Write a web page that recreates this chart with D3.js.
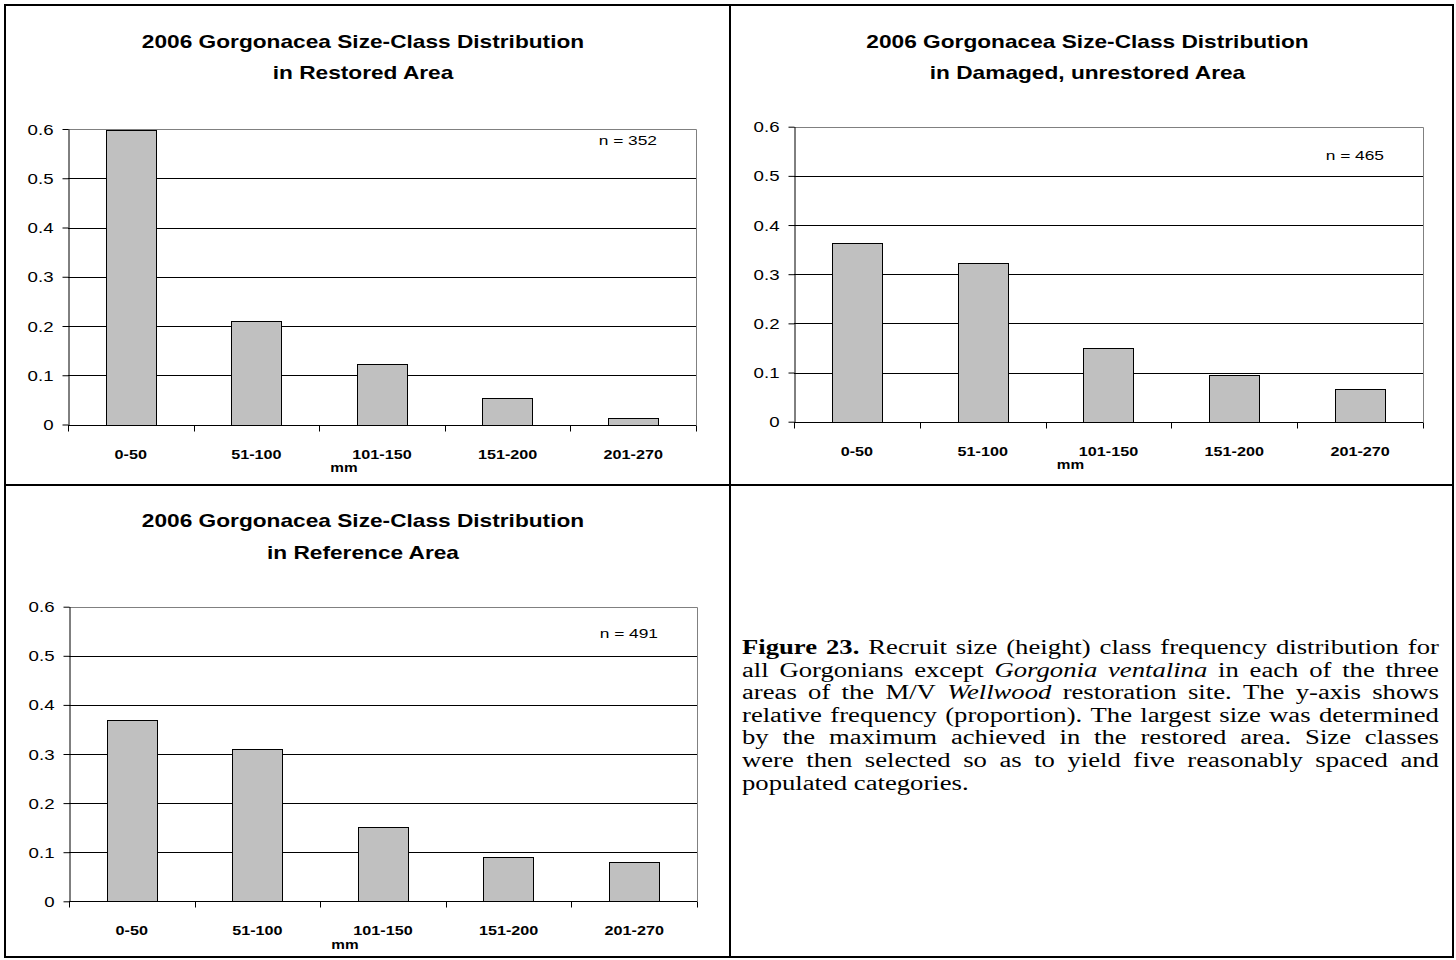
<!DOCTYPE html>
<html>
<head>
<meta charset="utf-8">
<script src="https://cdn.jsdelivr.net/npm/d3@7"></script>
<style>
  html, body { margin: 0; padding: 0; background: #fff; }
  #fig { position: absolute; left: 0; top: 0; }
  #cap {
    position: absolute; left: 742px; top: 636px;
    width: 522.75px; transform: scaleX(1.3333); transform-origin: 0 0;
    font-family: "Liberation Serif", "Times New Roman", serif; font-size: 20px; color: #000;
  }
  #cap .ln { display: flex; justify-content: space-between; height: 22.6px; line-height: 22.6px; white-space: nowrap; }
  #cap .ln.last { justify-content: flex-start; }
  #cap .ln.last span { margin-right: 0.25em; }
</style>
</head>
<body>
<svg id="fig" width="1456" height="960"></svg>
<div id="cap"></div>
<script>
// ---------------- data ----------------
const categories = ["0-50", "51-100", "101-150", "151-200", "201-270"];
const restored  = [0.597, 0.211, 0.122, 0.053, 0.013];
const damaged   = [0.364, 0.323, 0.150, 0.095, 0.067];
const reference = [0.369, 0.310, 0.151, 0.090, 0.081];
const yTicks = [0, 0.1, 0.2, 0.3, 0.4, 0.5, 0.6];
const yTickLabels = ["0", "0.1", "0.2", "0.3", "0.4", "0.5", "0.6"];
const titleLine1 = "2006 Gorgonacea Size-Class Distribution";
const subtitles = ["in Restored Area", "in Damaged, unrestored Area", "in Reference Area"];
const nCounts = [352, 465, 491];
const xAxisTitle = "mm";
const captionLines = [
  [["Figure", "b"], ["23.", "b"], "Recruit", "size", "(height)", "class", "frequency", "distribution", "for"],
  ["all", "Gorgonians", "except", ["Gorgonia", "i"], ["ventalina", "i"], "in", "each", "of", "the", "three"],
  ["areas", "of", "the", "M/V", ["Wellwood", "i"], "restoration", "site.", "The", "y-axis", "shows"],
  ["relative", "frequency", "(proportion).", "The", "largest", "size", "was", "determined"],
  ["by", "the", "maximum", "achieved", "in", "the", "restored", "area.", "Size", "classes"],
  ["were", "then", "selected", "so", "as", "to", "yield", "five", "reasonably", "spaced", "and"],
  ["populated", "categories."]
];

// ---------------- layout ----------------
const SANS = "'Liberation Sans', Arial, sans-serif";
const panels = [
  { values: restored,  sub: subtitles[0], n: nCounts[0], x0: 68,  x1: 696,  yTop: 129,   yBot: 424.5, cx: 363,    tY: 47.5,  nY: 145 },
  { values: damaged,   sub: subtitles[1], n: nCounts[1], x0: 794, x1: 1423, yTop: 126.7, yBot: 421.7, cx: 1087.5, tY: 47.5,  nY: 160 },
  { values: reference, sub: subtitles[2], n: nCounts[2], x0: 69,  x1: 697,  yTop: 606.7, yBot: 901.3, cx: 363,    tY: 527,   nY: 638 }
];

const svg = d3.select("#fig");

function stretchText(sel, x, y, str, o) {
  const g = sel.append("g").attr("transform", `translate(${x},${y}) scale(${o.sx},1)`);
  return g.append("text")
    .attr("x", 0).attr("y", 0)
    .attr("text-anchor", o.anchor || "middle")
    .attr("font-family", SANS)
    .attr("font-size", o.size)
    .attr("font-weight", o.weight || "normal")
    .attr("fill", "#000")
    .text(str);
}

// table borders
const frame = svg.append("g").attr("fill", "none").attr("stroke", "#000").attr("stroke-width", 2);
frame.append("rect").attr("x", 5).attr("y", 5).attr("width", 1448).attr("height", 952);
frame.append("line").attr("x1", 730).attr("x2", 730).attr("y1", 5).attr("y2", 957);
frame.append("line").attr("x1", 5).attr("x2", 1453).attr("y1", 485).attr("y2", 485);

panels.forEach(p => {
  const g = svg.append("g");
  const y = d3.scaleLinear().domain([0, 0.6]).range([p.yBot, p.yTop]);
  const x = d3.scaleBand().domain(categories).range([p.x0, p.x1]).paddingInner(0.6).paddingOuter(0.3);
  const xb = d3.scaleLinear().domain([0, categories.length]).range([p.x0, p.x1]);

  // titles
  stretchText(g, p.cx, p.tY, titleLine1, { size: 18, sx: 1.26, weight: "bold" });
  stretchText(g, p.cx, p.tY + 31.5, p.sub, { size: 18, sx: 1.26, weight: "bold" });

  // gridlines
  g.append("g").selectAll("line").data(yTicks.filter(t => t > 0 && t < 0.6)).join("line")
    .attr("x1", p.x0).attr("x2", p.x1)
    .attr("y1", d => Math.round(y(d)) + 0.5).attr("y2", d => Math.round(y(d)) + 0.5)
    .attr("stroke", "#000").attr("stroke-width", 1);

  // plot border top & right (gray)
  const top = Math.round(y(0.6)) + 0.5;
  g.append("path")
    .attr("d", `M${p.x0},${top}H${Math.round(p.x1) + 0.5}V${Math.round(y(0)) + 0.5}`)
    .attr("fill", "none").attr("stroke", "#808080").attr("stroke-width", 1);

  // bars
  g.append("g").selectAll("rect").data(p.values).join("rect")
    .attr("x", (d, i) => Math.round(x(categories[i])) + 0.5)
    .attr("width", Math.round(x.bandwidth()))
    .attr("y", d => Math.round(y(d)) + 0.5)
    .attr("height", d => Math.round(y(0)) - Math.round(y(d)))
    .attr("fill", "#c0c0c0").attr("stroke", "#000").attr("stroke-width", 1);

  // y axis
  const ya = g.append("g").attr("transform", `translate(${Math.round(p.x0) + 0.5},0)`)
    .call(d3.axisLeft(y).tickValues(yTicks).tickSize(6).tickSizeOuter(0)
      .tickFormat((d, i) => yTickLabels[i]));
  ya.select(".domain").attr("stroke", "#000");
  ya.selectAll(".tick line").attr("stroke", "#000");
  ya.selectAll(".tick text")
    .attr("x", -15 / 1.3333).attr("dy", "0.36em")
    .attr("transform", "scale(1.3333,1)")
    .attr("font-family", SANS).attr("font-size", 14).attr("fill", "#000");

  // x axis line + boundary ticks
  const y0 = Math.round(y(0)) + 0.5;
  g.append("line").attr("x1", p.x0).attr("x2", p.x1).attr("y1", y0).attr("y2", y0)
    .attr("stroke", "#000").attr("stroke-width", 1);
  g.append("g").selectAll("line").data(d3.range(categories.length + 1)).join("line")
    .attr("x1", d => Math.round(xb(d)) + 0.5).attr("x2", d => Math.round(xb(d)) + 0.5)
    .attr("y1", y0).attr("y2", y0 + 6)
    .attr("stroke", "#000").attr("stroke-width", 1);

  // x tick labels
  categories.forEach(c => {
    stretchText(g, x(c) + x.bandwidth() / 2, y(0) + 34, c, { size: 13, sx: 1.246, weight: "bold" });
  });
  // x axis title
  stretchText(g, (p.x0 + p.x1) / 2 - 38, y(0) + 47.5, xAxisTitle, { size: 12, sx: 1.28, weight: "bold" });

  // n label
  stretchText(g, p.x1 - 39, p.nY, "n = " + p.n, { size: 13, sx: 1.3333, anchor: "end" });
});

// caption
const cap = d3.select("#cap");
captionLines.forEach((words, li) => {
  const ln = cap.append("div").attr("class", "ln" + (li === captionLines.length - 1 ? " last" : ""));
  words.forEach(w => {
    const s = ln.append("span");
    if (Array.isArray(w)) {
      s.text(w[0]);
      if (w[1] === "b") s.style("font-weight", "bold");
      if (w[1] === "i") s.style("font-style", "italic");
    } else s.text(w);
  });
});
</script>
</body>
</html>
